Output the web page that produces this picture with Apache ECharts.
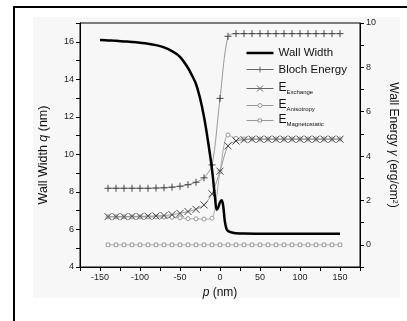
<!DOCTYPE html>
<html>
<head>
<meta charset="utf-8">
<script src="https://cdn.jsdelivr.net/npm/echarts@6/dist/echarts.min.js"></script>
<style>
  html, body { margin: 0; padding: 0; background: #fff; }
  #chart { width: 407px; height: 321px; }
</style>
</head>
<body>
<div id="chart"></div>
<script>
const FONT = "'Liberation Sans', Arial, sans-serif";

// wall width q (nm) vs p (nm), left axis
const wallP = [-150, -140, -130, -120, -110, -100, -90, -80, -70, -60, -50, -40, -35, -30, -25, -20, -15, -10, -6, -4, -2, 0, 2, 4, 6, 8, 10, 15, 20, 30, 60, 150];
const wallQ = [16.09, 16.07, 16.05, 16.02, 15.99, 15.95, 15.9, 15.82, 15.7, 15.5, 15.2, 14.6, 14.2, 13.75, 13.0, 12.0, 10.7, 9.2, 7.6, 7.05, 7.2, 7.45, 7.55, 7.25, 6.45, 6.05, 5.92, 5.84, 5.8, 5.78, 5.77, 5.77];

// energies (erg/cm^2), right axis
const pVals = [-140, -130, -120, -110, -100, -90, -80, -70, -60, -50, -40, -30, -20, -10, 0, 10, 20, 30, 40, 50, 60, 70, 80, 90, 100, 110, 120, 130, 140, 150];
const blochEnergy = [2.55, 2.55, 2.55, 2.55, 2.55, 2.55, 2.56, 2.57, 2.6, 2.64, 2.71, 2.82, 3.02, 3.6, 6.6, 9.4, 9.52, 9.52, 9.52, 9.52, 9.52, 9.52, 9.52, 9.52, 9.52, 9.52, 9.52, 9.52, 9.52, 9.52];
const exchangeEnergy = [1.27, 1.27, 1.27, 1.28, 1.28, 1.29, 1.3, 1.32, 1.36, 1.42, 1.5, 1.6, 1.8, 2.3, 3.32, 4.46, 4.68, 4.74, 4.76, 4.76, 4.76, 4.76, 4.76, 4.76, 4.76, 4.76, 4.76, 4.76, 4.76, 4.76];
const anisotropyEnergy = [1.26, 1.26, 1.26, 1.26, 1.26, 1.26, 1.26, 1.25, 1.24, 1.22, 1.18, 1.17, 1.16, 1.2, 3.3, 4.95, 4.8, 4.77, 4.77, 4.77, 4.77, 4.77, 4.77, 4.77, 4.77, 4.77, 4.77, 4.77, 4.77, 4.77];
const magnetostaticEnergy = [0, 0, 0, 0, 0, 0, 0, 0, 0, 0, 0, 0, 0, 0, 0, 0, 0, 0, 0, 0, 0, 0, 0, 0, 0, 0, 0, 0, 0, 0];

const xTickLabels = [-150, -100, -50, 0, 50, 100, 150];
const leftTickLabels = [4, 6, 8, 10, 12, 14, 16];
const rightTickLabels = [0, 2, 4, 6, 8, 10];

const pairs = (xs, ys) => xs.map((x, i) => [x, ys[i]]);

const PLUS = 'path://M0,5L10,5M5,0L5,10';
const CROSS = 'path://M0,0L10,10M10,0L0,10';

// legend icons drawn in a 27x16 box (corner anchors keep the scale 1:1)
const ANCHOR = 'M0,0L0,0M27,16L27,16';
const ICON_WALL = 'path://' + ANCHOR + 'M0,6.75L27,6.75L27,9.25L0,9.25Z';
const ICON_BLOCH = 'path://' + ANCHOR + 'M0,8L27,8M10.5,8L16.5,8M13.5,5L13.5,11';
const ICON_EXCH = 'path://' + ANCHOR + 'M0,8L27,8M10.5,5L16.5,11M16.5,5L10.5,11';
const ICON_ANIS = 'path://' + ANCHOR + 'M0,8L11.5,8M15.5,8L27,8M11.5,8A2,2 0 1 1 15.5,8A2,2 0 1 1 11.5,8Z';
const ICON_MAG = 'path://' + ANCHOR + 'M0,8L11.5,8M15.5,8L27,8M11.5,6.5L15,6.5L15,9.5L11.5,9.5Z';

const chart = echarts.init(document.getElementById('chart'));
chart.setOption({
  animation: false,
  textStyle: { fontFamily: FONT },
  graphic: [
    { type: 'rect', silent: true, z: -100, shape: { x: 33, y: 17, width: 367, height: 281 }, style: { fill: '#f7f7f7' } },
    { type: 'line', silent: true, shape: { x1: 13, y1: 7, x2: 407, y2: 7 }, style: { stroke: '#000', lineWidth: 2 } },
    { type: 'line', silent: true, shape: { x1: 14, y1: 6, x2: 14, y2: 321 }, style: { stroke: '#000', lineWidth: 2 } }
  ],
  grid: { left: 80, right: 47, top: 23, bottom: 54, show: true, borderColor: '#000', borderWidth: 1 },
  legend: {
    orient: 'vertical',
    left: 244,
    top: 45,
    padding: 0,
    itemWidth: 27,
    itemHeight: 16,
    itemGap: -2,
    selectedMode: false,
    symbolKeepAspect: true,
    data: [
      { name: 'Wall Width', icon: ICON_WALL, itemStyle: { color: '#000', borderWidth: 0 } },
      { name: 'Bloch Energy', icon: ICON_BLOCH, itemStyle: { color: 'none', borderColor: '#666', borderWidth: 1 } },
      { name: 'E_Exchange', icon: ICON_EXCH, itemStyle: { color: 'none', borderColor: '#666', borderWidth: 1 } },
      { name: 'E_Anisotropy', icon: ICON_ANIS, itemStyle: { color: '#fff', borderColor: '#999', borderWidth: 1 } },
      { name: 'E_Magnetostatic', icon: ICON_MAG, itemStyle: { color: '#fff', borderColor: '#999', borderWidth: 1 } }
    ],
    formatter: function (name) {
      if (name.indexOf('E_') === 0) return '{e|E}{sub|' + name.slice(2) + '}';
      return '{t|' + name + '}';
    },
    textStyle: {
      color: '#111',
      fontSize: 11,
      rich: {
        t: { fontSize: 11.5, lineHeight: 14, color: '#111' },
        e: { fontSize: 12, lineHeight: 14, verticalAlign: 'top', color: '#111' },
        sub: { fontSize: 6, lineHeight: 6, verticalAlign: 'bottom', color: '#111' }
      }
    }
  },
  xAxis: {
    type: 'value',
    min: -175,
    max: 175,
    interval: 25,
    name: '{i|p} (nm)',
    nameLocation: 'middle',
    nameGap: 16,
    nameTextStyle: { fontSize: 12, color: '#111', rich: { i: { fontSize: 12, fontStyle: 'italic', color: '#111' } } },
    axisLine: { onZero: false, lineStyle: { color: '#000', width: 1 } },
    axisTick: { length: 4, lineStyle: { color: '#000' } },
    axisLabel: {
      fontSize: 9, color: '#222', margin: 6,
      formatter: v => xTickLabels.includes(v) ? String(v) : ''
    },
    splitLine: { show: false }
  },
  yAxis: [
    {
      type: 'value',
      min: 4,
      max: 17,
      interval: 1,
      name: 'Wall Width {i|q} (nm)',
      nameLocation: 'middle',
      nameGap: 30,
      nameTextStyle: {
        fontSize: 12.5, color: '#111', padding: [0, 20, 0, 0],
        rich: { i: { fontSize: 12.5, fontStyle: 'italic', color: '#111' } }
      },
      axisLine: { show: true, onZero: false, lineStyle: { color: '#000', width: 1 } },
      axisTick: { show: true, length: 4, lineStyle: { color: '#000' } },
      axisLabel: {
        fontSize: 9, color: '#222', margin: 6,
        formatter: v => leftTickLabels.includes(v) ? String(v) : ''
      },
      splitLine: { show: false }
    },
    {
      type: 'value',
      position: 'right',
      min: -1,
      max: 10,
      interval: 1,
      name: 'Wall Energy {i|γ} (erg/cm{sup|2})',
      nameLocation: 'middle',
      nameRotate: -90,
      nameGap: 24,
      nameTextStyle: {
        fontSize: 12, color: '#111',
        rich: {
          i: { fontSize: 12, fontStyle: 'italic', color: '#111' },
          sup: { fontSize: 7, lineHeight: 7, verticalAlign: 'top', color: '#111' }
        }
      },
      axisLine: { show: true, onZero: false, lineStyle: { color: '#000', width: 1 } },
      axisTick: { show: true, length: 4, lineStyle: { color: '#000' } },
      axisLabel: {
        fontSize: 9, color: '#222', margin: 6,
        formatter: v => rightTickLabels.includes(v) ? String(v) : ''
      },
      splitLine: { show: false }
    }
  ],
  series: [
    {
      name: 'E_Magnetostatic',
      type: 'line',
      yAxisIndex: 1,
      data: pairs(pVals, magnetostaticEnergy),
      symbol: 'rect',
      symbolSize: 3.5,
      showAllSymbol: true,
      itemStyle: { color: '#fff', borderColor: '#999', borderWidth: 1 },
      lineStyle: { color: '#aaa', width: 1 },
      z: 2
    },
    {
      name: 'E_Anisotropy',
      type: 'line',
      yAxisIndex: 1,
      smooth: 0.3,
      data: pairs(pVals, anisotropyEnergy),
      symbol: 'circle',
      symbolSize: 4,
      showAllSymbol: true,
      itemStyle: { color: '#fff', borderColor: '#999', borderWidth: 1 },
      lineStyle: { color: '#aaa', width: 1 },
      z: 3
    },
    {
      name: 'E_Exchange',
      type: 'line',
      yAxisIndex: 1,
      smooth: 0.3,
      data: pairs(pVals, exchangeEnergy),
      symbol: CROSS,
      symbolSize: 7,
      showAllSymbol: true,
      itemStyle: { color: '#444', borderColor: '#444', borderWidth: 1 },
      lineStyle: { color: '#999', width: 1 },
      z: 4
    },
    {
      name: 'Bloch Energy',
      type: 'line',
      yAxisIndex: 1,
      smooth: 0.3,
      data: pairs(pVals, blochEnergy),
      symbol: PLUS,
      symbolSize: 7,
      showAllSymbol: true,
      itemStyle: { color: '#444', borderColor: '#444', borderWidth: 1 },
      lineStyle: { color: '#999', width: 1 },
      z: 5
    },
    {
      name: 'Wall Width',
      type: 'line',
      yAxisIndex: 0,
      smooth: 0.4,
      data: pairs(wallP, wallQ),
      symbol: 'none',
      itemStyle: { color: '#000' },
      lineStyle: { color: '#000', width: 2.5 },
      z: 10
    }
  ]
});
</script>
</body>
</html>
